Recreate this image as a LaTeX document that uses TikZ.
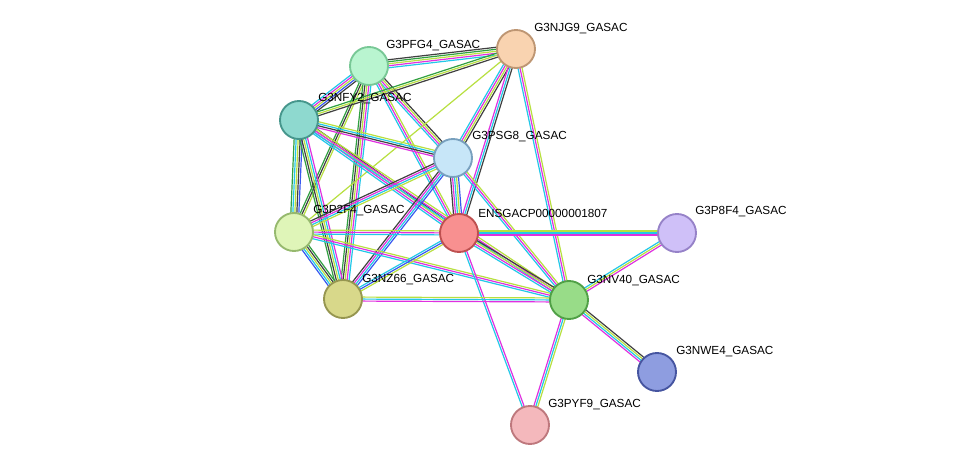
\documentclass[tikz,border=0pt]{standalone}
\usepackage{fontspec}
\setmainfont{Liberation Sans}
\usetikzlibrary{calc}
\definecolor{ec}{HTML}{22C8E8}
\definecolor{em}{HTML}{E030E0}
\definecolor{ey}{HTML}{B8E040}
\definecolor{ek}{HTML}{404040}
\definecolor{eg}{HTML}{30A040}
\definecolor{eb}{HTML}{3858F0}
\pgfdeclarelayer{back}
\pgfdeclarelayer{bg}
\pgfsetlayers{back,bg,main}
\tikzset{
 prot/.style={circle,minimum size=28.5pt,inner sep=0pt,line width=1.4pt},
 lab/.style={anchor=west,inner sep=0pt,font=\fontsize{8.8}{10}\selectfont},
}
\newcommand\edge[4]{%
 \foreach \c [count=\i] in {#4}{%
  \pgfmathsetmacro\off{(\i-(#3+1)/2)*1.5}%
  \draw[\c,line width=0.9pt] ($(#1)!\off pt!90:(#2)$) -- ($(#2)!\off pt!-90:(#1)$);
 }}
\begin{document}
\begin{tikzpicture}[x=0.75pt,y=-0.75pt]
\begin{pgfonlayer}{back}
\fill[white] (0,0) rectangle (976,471);
\end{pgfonlayer}
\node[prot,fill={rgb,255:red,185;green,245;blue,208},draw={rgb,255:red,120;green,200;blue,150}] (pfg4) at (369,66) {};
\node[prot,fill={rgb,255:red,249;green,211;blue,176},draw={rgb,255:red,190;green,150;blue,115}] (njg9) at (516,49) {};
\node[prot,fill={rgb,255:red,142;green,217;blue,207},draw={rgb,255:red,70;green,150;blue,140}] (nfy2) at (299,120) {};
\node[prot,fill={rgb,255:red,199;green,230;blue,248},draw={rgb,255:red,120;green,160;blue,190}] (psg8) at (453,158) {};
\node[prot,fill={rgb,255:red,248;green,144;blue,144},draw={rgb,255:red,190;green,80;blue,80}] (ensg) at (459,233) {};
\node[prot,fill={rgb,255:red,223;green,245;blue,184},draw={rgb,255:red,150;green,185;blue,110}] (p2f4) at (294,232) {};
\node[prot,fill={rgb,255:red,207;green,192;blue,248},draw={rgb,255:red,150;green,130;blue,200}] (p8f4) at (677,233) {};
\node[prot,fill={rgb,255:red,216;green,216;blue,138},draw={rgb,255:red,150;green,150;blue,80}] (nz66) at (343,299) {};
\node[prot,fill={rgb,255:red,152;green,220;blue,136},draw={rgb,255:red,80;green,160;blue,70}] (nv40) at (569,300) {};
\node[prot,fill={rgb,255:red,142;green,157;blue,224},draw={rgb,255:red,70;green,85;blue,160}] (nwe4) at (657,372) {};
\node[prot,fill={rgb,255:red,244;green,184;blue,188},draw={rgb,255:red,190;green,120;blue,125}] (pyf9) at (530,425) {};
\begin{pgfonlayer}{bg}
\edge{pfg4}{njg9}{5}{ec,em,ey,eg,ek}
\edge{pfg4}{nfy2}{5}{ec,em,ey,eb,ek}
\edge{pfg4}{psg8}{4}{ec,em,ey,ek}
\edge{pfg4}{ensg}{3}{ec,em,ey}
\edge{pfg4}{p2f4}{3}{eg,ek,ey}
\edge{pfg4}{nz66}{5}{eg,ek,ey,em,ec}
\edge{njg9}{nfy2}{3}{eg,ey,ek}
\edge{njg9}{psg8}{4}{ec,em,ey,ek}
\edge{njg9}{ensg}{3}{em,ec,ek}
\edge{njg9}{nv40}{3}{ec,em,ey}
\edge{njg9}{p2f4}{1}{ey}
\edge{nfy2}{psg8}{4}{em,ek,ec,ey}
\edge{nfy2}{ensg}{4}{ec,em,ey,ek}
\edge{nfy2}{p2f4}{5}{eg,ec,ey,ek,eb}
\edge{nfy2}{nz66}{5}{eg,ek,ey,ec,em}
\edge{nfy2}{nv40}{3}{ec,em,ey}
\edge{psg8}{ensg}{5}{ek,em,ec,ey,eb}
\edge{psg8}{p2f4}{4}{ek,em,ec,ey}
\edge{psg8}{nz66}{4}{ek,em,ec,eb}
\edge{psg8}{nv40}{3}{ec,em,ey}
\edge{p2f4}{ensg}{3}{ec,em,ey}
\edge{p2f4}{nz66}{5}{eb,ec,ey,ek,eg}
\edge{p2f4}{nv40}{3}{ec,em,ey}
\edge{ensg}{nz66}{3}{ec,eb,ey}
\edge{ensg}{nv40}{4}{ec,em,ey,ek}
\edge{ensg}{p8f4}{3}{em,ec,ey}
\edge{ensg}{pyf9}{2}{ec,em}
\edge{nz66}{nv40}{3}{em,ec,ey}
\edge{nv40}{p8f4}{3}{em,ey,ec}
\edge{nv40}{nwe4}{4}{em,ec,ey,ek}
\edge{nv40}{pyf9}{3}{em,ec,ey}
\end{pgfonlayer}
\node[lab] (lpfg4) at (386,46) {G3PFG4\_GASAC};
\node[lab] (lnjg9) at (534,29) {G3NJG9\_GASAC};
\node[lab] (lnfy2) at (318,99) {G3NFY2\_GASAC};
\node[lab] (lpsg8) at (472,137) {G3PSG8\_GASAC};
\node[lab] (lensg) at (478,213) {ENSGACP00000001807};
\node[lab] (lp2f4) at (313,211) {G3P2F4\_GASAC};
\node[lab] (lp8f4) at (695,212) {G3P8F4\_GASAC};
\node[lab] (lnz66) at (362,280) {G3NZ66\_GASAC};
\node[lab] (lnv40) at (587,281) {G3NV40\_GASAC};
\node[lab] (lnwe4) at (676,352) {G3NWE4\_GASAC};
\node[lab] (lpyf9) at (548,405) {G3PYF9\_GASAC};
\end{tikzpicture}
\end{document}
